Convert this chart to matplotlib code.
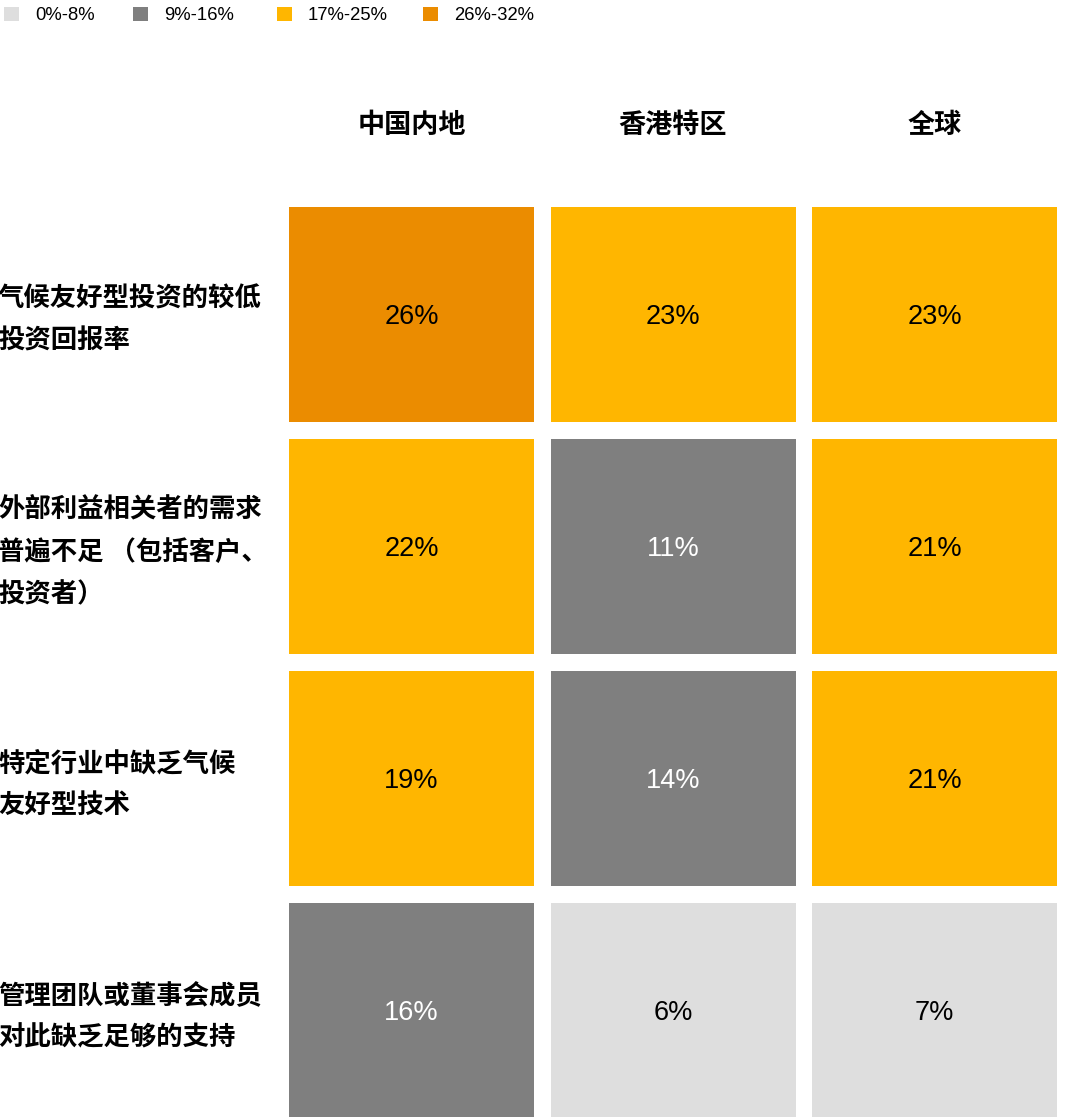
import matplotlib
matplotlib.use("Agg")
import matplotlib.pyplot as plt
from matplotlib.patches import Rectangle

plt.rcParams['font.family'] = ['Noto Sans CJK SC', 'DejaVu Sans']

regions = ["中国内地", "香港特区", "全球"]
barriers = [
    "气候友好型投资的较低\n投资回报率",
    "外部利益相关者的需求\n普遍不足 （包括客户、\n投资者）",
    "特定行业中缺乏气候\n友好型技术",
    "管理团队或董事会成员\n对此缺乏足够的支持",
]
values = [
    [26, 23, 23],
    [22, 11, 21],
    [19, 14, 21],
    [16, 6, 7],
]
bins = ["0%-8%", "9%-16%", "17%-25%", "26%-32%"]
bin_upper = [8, 16, 25, 32]
bin_colors = ["#DEDEDE", "#7F7F7F", "#FFB600", "#EB8C00"]
text_colors = ["black", "white", "black", "black"]


def bin_of(v):
    for i, up in enumerate(bin_upper):
        if v <= up:
            return i
    return len(bin_upper) - 1


W, H = 1065, 1117
fig = plt.figure(figsize=(W / 100, H / 100), dpi=100)
ax = fig.add_axes([0, 0, 1, 1])
ax.set_xlim(0, W)
ax.set_ylim(H, 0)
ax.axis("off")

# grid geometry (pixels)
x0, y0 = 289, 207
cw, ch = 245, 215
gx, gy = 16.5, 17

for r, row in enumerate(values):
    cy = y0 + r * (ch + gy)
    for c, v in enumerate(row):
        cx = x0 + c * (cw + gx)
        b = bin_of(v)
        ax.add_patch(Rectangle((cx, cy), cw, ch, facecolor=bin_colors[b], edgecolor="none"))
        ax.text(cx + cw / 2, cy + ch / 2 + 2, f"{v}%", ha="center", va="center",
                fontsize=19.5, family=["Liberation Sans", "DejaVu Sans"],
                color=text_colors[b])
    ax.text(-2, cy + ch / 2 + 6, barriers[r], ha="left", va="center",
            fontsize=19, fontweight="bold", linespacing=1.72)

for c, name in enumerate(regions):
    cx = x0 + c * (cw + gx) + cw / 2
    ax.text(cx, 125, name, ha="center", va="center", fontsize=19.5, fontweight="bold")

# legend
leg_x = [4, 133, 277, 423]
for i, lab in enumerate(bins):
    ax.add_patch(Rectangle((leg_x[i], 7), 15, 14, facecolor=bin_colors[i], edgecolor="none"))
    ax.text(leg_x[i] + 31, 16, lab, ha="left", va="center", fontsize=13.3,
            family=["Liberation Sans", "DejaVu Sans"])

fig.savefig("out.png", dpi=100)
